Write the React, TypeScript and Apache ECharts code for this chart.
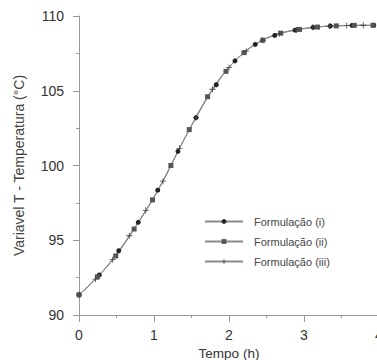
import React, { useEffect, useRef } from "react";
import * as echarts from "echarts";

const seriesNames = ["Formulação (i)", "Formulação (ii)", "Formulação (iii)"];

const timeI = [0, 0.27, 0.53, 0.79, 1.05, 1.32, 1.56, 1.83, 2.08, 2.35, 2.61, 2.88, 3.12, 3.35, 3.64, 3.93];
const tempI = [91.35, 92.68, 94.3, 96.2, 98.35, 100.95, 103.2, 105.4, 107.0, 108.1, 108.7, 109.05, 109.24, 109.33, 109.37, 109.38];

const timeII = [0, 0.245, 0.49, 0.735, 0.98, 1.225, 1.47, 1.715, 1.96, 2.2, 2.45, 2.69, 2.94, 3.18, 3.43, 3.67, 3.92];
const tempII = [91.35, 92.55, 93.95, 95.75, 97.7, 100.0, 102.4, 104.6, 106.3, 107.55, 108.38, 108.85, 109.1, 109.26, 109.34, 109.37, 109.38];

const timeIII = [0, 0.22, 0.45, 0.67, 0.89, 1.12, 1.34, 1.56, 1.78, 2.0, 2.23, 2.45, 2.67, 2.9, 3.12, 3.34, 3.57, 3.79];
const tempIII = [91.35, 92.4, 93.7, 95.3, 97.0, 98.95, 101.15, 103.2, 105.1, 106.55, 107.65, 108.38, 108.82, 109.07, 109.24, 109.32, 109.36, 109.38];

const xTitle = "Tempo (h)";
const yTitle = "Variavel T - Temperatura (°C)";

const plusPath = "path://M4.3,0H5.7V4.3H10V5.7H5.7V10H4.3V5.7H0V4.3H4.3Z";

export default function App() {
  const ref = useRef<HTMLDivElement>(null);
  useEffect(() => {
    if (!ref.current) return;
    const chart = echarts.init(ref.current, null, { renderer: "svg" });
    const font = "Liberation Sans, Arial, sans-serif";
    const mk = (name: string, xs: number[], ys: number[], symbol: string, size: number, color: string) => ({
      name,
      type: "line",
      smooth: true,
      data: xs.map((x, i) => [x, ys[i]]),
      symbol,
      symbolSize: size,
      showAllSymbol: true,
      lineStyle: { color: "#8a8a8a", width: 1 },
      itemStyle: { color },
    });
    chart.setOption({
      animation: false,
      textStyle: { fontFamily: font },
      grid: { left: 79, width: 300, top: 16, height: 299, outerBoundsMode: "none", containLabel: false },
      legend: {
        orient: "vertical",
        left: 199,
        top: 211,
        itemWidth: 38,
        itemHeight: 6,
        itemGap: 9,
        textStyle: { fontSize: 11, color: "#444", fontFamily: font, padding: [0, 0, 0, 6] },
        data: seriesNames,
      },
      xAxis: {
        type: "value",
        min: 0,
        max: 4,
        interval: 1,
        name: xTitle,
        nameLocation: "middle",
        nameGap: 26,
        nameTextStyle: { fontSize: 13.5, color: "#333", fontFamily: font },
        axisLine: { lineStyle: { color: "#999" } },
        axisTick: { length: 7, lineStyle: { color: "#999" } },
        minorTick: { show: true, splitNumber: 2, length: 3, lineStyle: { color: "#999" } },
        splitLine: { show: false },
        axisLabel: { fontSize: 14, color: "#333", margin: 13, fontFamily: font },
      },
      yAxis: {
        type: "value",
        min: 90,
        max: 110,
        interval: 5,
        name: yTitle,
        nameLocation: "middle",
        nameGap: 53,
        nameTextStyle: { fontSize: 14, color: "#444", fontFamily: font },
        axisLine: { show: true, lineStyle: { color: "#999" } },
        axisTick: { show: true, length: 6, lineStyle: { color: "#999" } },
        minorTick: { show: true, splitNumber: 2, length: 3, lineStyle: { color: "#999" } },
        splitLine: { show: false },
        axisLabel: { fontSize: 14, color: "#333", margin: 15, fontFamily: font },
      },
      series: [
        mk(seriesNames[0], timeI, tempI, "circle", 5, "#222"),
        mk(seriesNames[1], timeII, tempII, "rect", 5, "#555"),
        mk(seriesNames[2], timeIII, tempIII, plusPath, 6, "#444"),
      ],
    });
    return () => chart.dispose();
  }, []);
  return <div ref={ref} style={{ width: 377, height: 360, position: "absolute", left: 0, top: 0 }} />;
}
